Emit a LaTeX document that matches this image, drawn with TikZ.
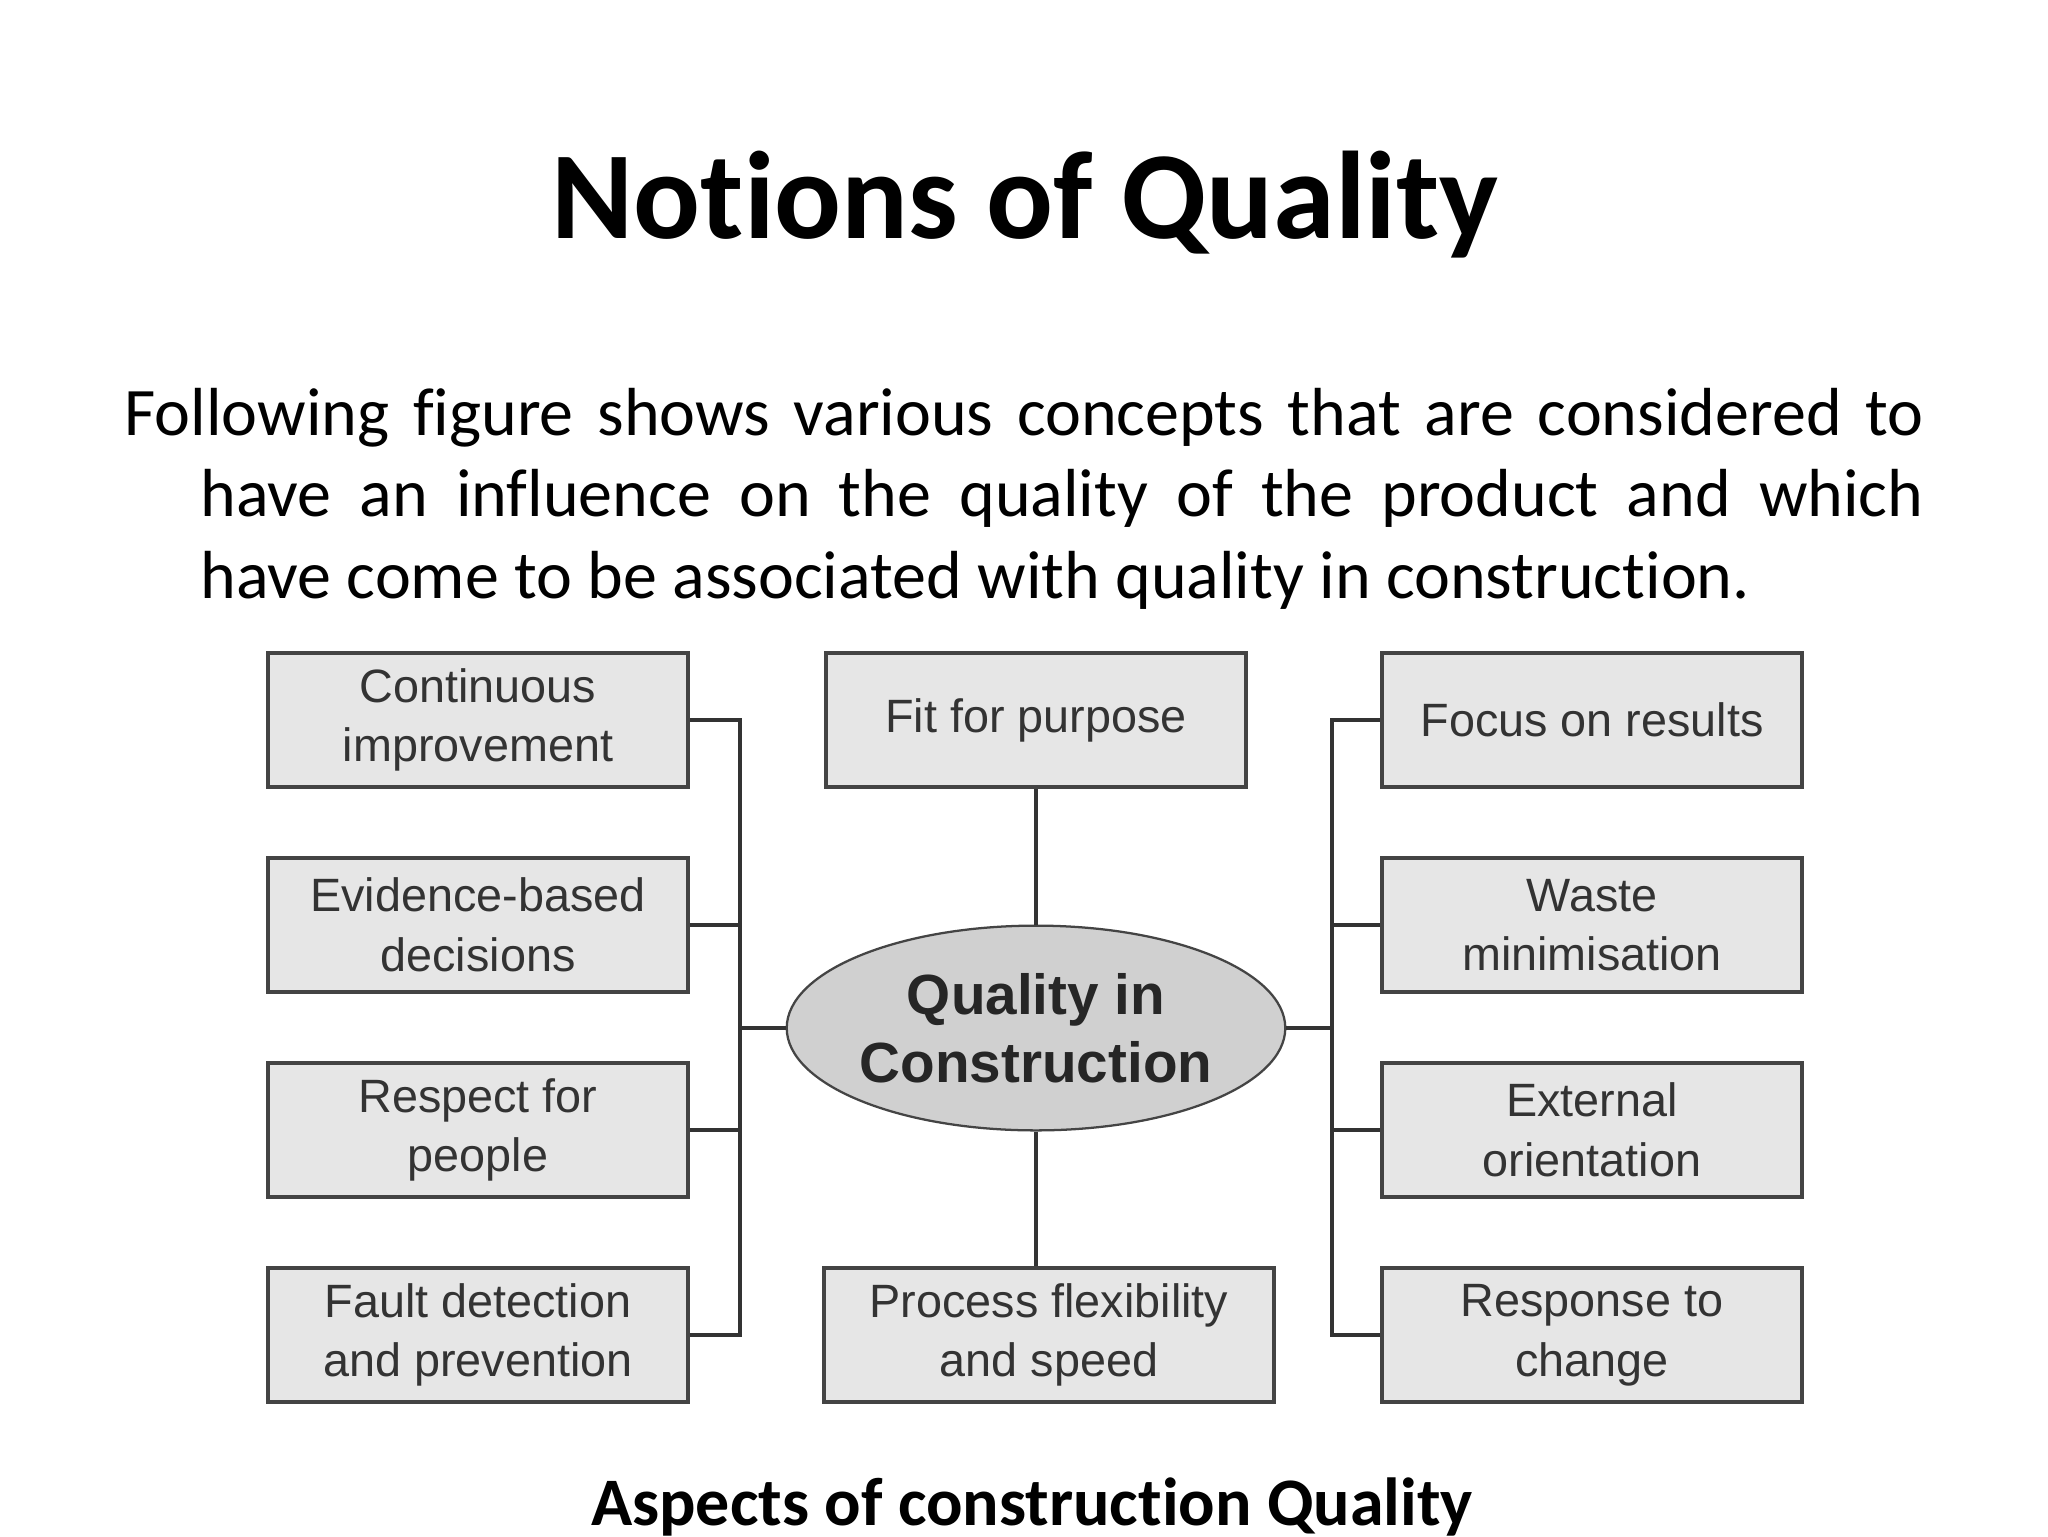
\documentclass[tikz,border=0pt]{standalone}
\usepackage{fontspec}
\setmainfont[Ligatures=NoCommon]{Carlito}
\newfontfamily\boxfont{Liberation Sans}
\usetikzlibrary{shapes.geometric}
\definecolor{boxfill}{HTML}{E6E6E6}
\definecolor{boxline}{HTML}{444444}
\definecolor{boxtext}{HTML}{333333}
\definecolor{ovalfill}{HTML}{D0D0D0}
\tikzset{
    aspect/.style={draw=boxline, fill=boxfill, line width=1.5pt, minimum width=5.21cm, minimum height=1.67cm, inner sep=0pt, align=center, text=boxtext, font=\boxfont\fontsize{16.5}{21}\selectfont},
    hub/.style={ellipse, draw=boxline, fill=ovalfill, line width=0.8pt, minimum width=6.05cm, minimum height=2.54cm, inner sep=0pt, align=center, text=black!85, font=\boxfont\bfseries\fontsize{20}{24}\selectfont},
    link/.style={draw=black!80, line width=1.6pt}
}

\begin{document}
\begin{tikzpicture}[x=0.0124cm, y=-0.0124cm]
            \fill[white] (0,0) rectangle (2048,1536);
            \useasboundingbox (0,0) rectangle (2048,1536);

            \node[anchor=base, font=\bfseries\fontsize{44}{53}\selectfont] (title) at (1025,238) {Notions of Quality};
            \node[anchor=base west, inner sep=0pt] (intro) at (124,435) {\parbox[t]{22.32cm}{\fontsize{24}{28.9}\selectfont\hangindent=0.94cm\hangafter=1 Following figure shows various concepts that are considered to\linebreak have an influence on the quality of the product and which\linebreak have come to be associated with quality in construction.}};

            \node[aspect] (continuous) at (478, 720) {Continuous\\improvement};
            \node[aspect] (evidence) at (478, 925) {Evidence-based\\decisions};
            \node[aspect] (respect) at (478,1130) {Respect for\\people};
            \node[aspect] (fault) at (478,1335) {Fault detection\\and prevention};

            \node[aspect] (fit) at (1036, 720) {Fit for purpose};
            \node[aspect, minimum width=5.58cm] (process) at (1049,1335) {Process flexibility\\and speed};

            \node[aspect] (focus) at (1592, 720) {Focus on results};
            \node[aspect] (waste) at (1592, 925) {Waste\\minimisation};
            \node[aspect] (external) at (1592,1130) {External\\orientation};
            \node[aspect] (response) at (1592,1335) {Response to\\change};

            \node[hub] (quality) at (1036,1028) {Quality in\\Construction};

            \coordinate (lbus) at (740,1028);
            \coordinate (rbus) at (1332,1028);

            \draw[link] (continuous.east) -- (continuous.east -| lbus) -- (fault.east -| lbus) -- (fault.east);
            \draw[link] (evidence.east) -- (evidence.east -| lbus);
            \draw[link] (respect.east) -- (respect.east -| lbus);
            \draw[link] (quality.west) -- (lbus);

            \draw[link] (focus.west) -- (focus.west -| rbus) -- (response.west -| rbus) -- (response.west);
            \draw[link] (waste.west) -- (waste.west -| rbus);
            \draw[link] (external.west) -- (external.west -| rbus);
            \draw[link] (quality.east) -- (rbus);

            \draw[link] (fit.south) -- (quality.north);
            \draw[link] (quality.south) -- (quality.south |- process.north);

            \node[anchor=base, font=\bfseries\fontsize{24}{29}\selectfont] (caption) at (1032,1525) {Aspects of construction Quality};
\end{tikzpicture}
\end{document}
